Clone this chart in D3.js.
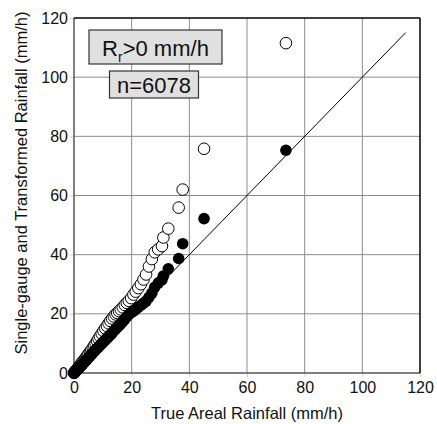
<!DOCTYPE html>
<html>
<head>
<meta charset="utf-8">
<script src="https://cdn.jsdelivr.net/npm/d3@7"></script>
<style>
  body { margin: 0; background: white; }
  text { font-family: "Liberation Sans", Arial, sans-serif; }
</style>
</head>
<body>
<div id="chart"></div>
<script>
  // sorted true areal rainfall quantiles (mm/h), shared by both series
  var trueAreal = [0, 0.1, 0.2, 0.3, 0.5, 0.7, 0.9, 1.1, 1.4, 1.7, 2.0, 2.3, 2.6, 3.0, 3.4, 3.8,
    4.2, 4.6, 5.0, 5.5, 6.0, 6.5, 7.0, 7.5, 8.0, 8.5, 9.0, 9.6, 10.2, 10.8, 11.4, 12.0, 12.6,
    13.2, 13.8, 14.4, 15.0, 15.6, 16.2, 16.9, 17.6, 18.3, 19.0, 19.8, 20.6, 21.4, 22.3, 23.2,
    24.1, 25.0, 26.0, 27.0, 28.0, 29.2, 30.5, 31.0, 32.7, 36.3, 37.7, 45.1, 73.5];
  // single-gauge rainfall (open circles)
  var singleGauge = [0, 0.1, 0.2, 0.35, 0.6, 0.85, 1.1, 1.35, 1.7, 2.1, 2.5, 2.9, 3.3, 3.8, 4.3, 4.8,
    5.3, 5.9, 6.4, 7.1, 7.8, 8.5, 9.3, 10.0, 10.8, 11.6, 12.4, 13.3, 14.2, 15.1, 15.9, 16.8, 17.6,
    18.4, 19.1, 19.8, 20.3, 20.9, 21.5, 22.2, 23.0, 23.7, 24.4, 25.3, 26.5, 27.5, 28.7, 30.0,
    31.6, 33.3, 36.0, 38.5, 40.8, 41.8, 42.9, 45.8, 48.8, 55.9, 62.0, 75.8, 111.5];
  // transformed rainfall (filled circles)
  var transformed = [0, 0.1, 0.2, 0.3, 0.5, 0.7, 0.9, 1.1, 1.4, 1.7, 2.0, 2.3, 2.6, 3.0, 3.4, 3.9,
    4.3, 4.7, 5.2, 5.7, 6.2, 6.8, 7.3, 7.8, 8.3, 8.8, 9.3, 9.9, 10.5, 11.1, 11.7, 12.3, 12.9,
    13.5, 14.2, 14.8, 15.4, 16.0, 16.6, 17.4, 18.2, 19.0, 19.8, 20.4, 20.9, 21.5, 22.3, 22.9,
    23.6, 24.3, 25.6, 27.0, 29.0, 30.4, 31.5, 32.8, 35.2, 38.7, 43.7, 52.2, 75.3];
  var oneToOne = [0, 115];
  var xTicks = [0, 20, 40, 60, 80, 100, 120];
  var yTicks = [0, 20, 40, 60, 80, 100, 120];
  var sampleCount = 6078;

  var width = 437, height = 424;
  var plotLeft = 74, plotRight = 420, plotTop = 18, plotBottom = 373;

  var svg = d3.select("#chart").append("svg")
    .attr("width", width)
    .attr("height", height);

  var xScale = d3.scaleLinear().domain([0, 120]).range([plotLeft, plotRight]);
  var yScale = d3.scaleLinear().domain([0, 120]).range([plotBottom, plotTop]);

  // grid lines
  svg.append("g").selectAll("line").data(xTicks.slice(1, -1)).enter()
    .append("line")
    .attr("x1", d => xScale(d)).attr("x2", d => xScale(d))
    .attr("y1", plotTop).attr("y2", plotBottom)
    .attr("stroke", "#8c8c8c").attr("stroke-width", 1);
  svg.append("g").selectAll("line").data(yTicks.slice(1, -1)).enter()
    .append("line")
    .attr("y1", d => yScale(d)).attr("y2", d => yScale(d))
    .attr("x1", plotLeft).attr("x2", plotRight)
    .attr("stroke", "#8c8c8c").attr("stroke-width", 1);

  // axes (labels only, light ticks)
  var xAxis = svg.append("g")
    .attr("transform", "translate(0," + plotBottom + ")")
    .call(d3.axisBottom(xScale).tickValues(xTicks).tickSize(4).tickPadding(5));
  var yAxis = svg.append("g")
    .attr("transform", "translate(" + plotLeft + ",0)")
    .call(d3.axisLeft(yScale).tickValues(yTicks).tickSize(4).tickPadding(2));
  [xAxis, yAxis].forEach(function(a) {
    a.select(".domain").remove();
    a.selectAll("line").attr("stroke", "#d0d0d0");
    a.selectAll("text")
      .attr("font-size", "16px")
      .attr("fill", "#111")
      .style("font-family", "'Liberation Sans', Arial, sans-serif");
  });

  // frame: left/bottom gray, top/right black
  svg.append("line").attr("x1", plotLeft).attr("x2", plotLeft).attr("y1", plotTop).attr("y2", plotBottom)
    .attr("stroke", "#555").attr("stroke-width", 1.5);
  svg.append("line").attr("x1", plotLeft).attr("x2", plotRight).attr("y1", plotBottom).attr("y2", plotBottom)
    .attr("stroke", "#555").attr("stroke-width", 1.5);
  svg.append("line").attr("x1", plotLeft).attr("x2", plotRight).attr("y1", plotTop).attr("y2", plotTop)
    .attr("stroke", "#000").attr("stroke-width", 1.5);
  svg.append("line").attr("x1", plotRight).attr("x2", plotRight).attr("y1", plotTop).attr("y2", plotBottom)
    .attr("stroke", "#000").attr("stroke-width", 1.5);

  // 1:1 line
  svg.append("line")
    .attr("x1", xScale(oneToOne[0])).attr("y1", yScale(oneToOne[0]))
    .attr("x2", xScale(oneToOne[1])).attr("y2", yScale(oneToOne[1]))
    .attr("stroke", "#000").attr("stroke-width", 1);

  // open circles first, filled on top
  svg.append("g").selectAll("circle").data(trueAreal).enter()
    .append("circle")
    .attr("cx", d => xScale(d))
    .attr("cy", (d, i) => yScale(singleGauge[i]))
    .attr("r", 5.8)
    .attr("fill", "white")
    .attr("stroke", "#000")
    .attr("stroke-width", 1);
  svg.append("g").selectAll("circle").data(trueAreal).enter()
    .append("circle")
    .attr("cx", d => xScale(d))
    .attr("cy", (d, i) => yScale(transformed[i]))
    .attr("r", 5.8)
    .attr("fill", "#000");

  // legend boxes
  svg.append("rect").attr("x", 89).attr("y", 30).attr("width", 133).attr("height", 34)
    .attr("fill", "#e0e0e0").attr("stroke", "#333").attr("stroke-width", 1.2);
  var t1 = svg.append("text").attr("x", 155.5).attr("y", 56).attr("text-anchor", "middle")
    .attr("font-size", "22px").attr("fill", "#111");
  t1.append("tspan").text("R");
  t1.append("tspan").attr("font-size", "14px").attr("dy", 6).text("r");
  t1.append("tspan").attr("dy", -6).text(">0 mm/h");

  svg.append("rect").attr("x", 109.5).attr("y", 71).attr("width", 89).attr("height", 27)
    .attr("fill", "#e0e0e0").attr("stroke", "#333").attr("stroke-width", 1.2);
  svg.append("text").attr("x", 154).attr("y", 93).attr("text-anchor", "middle")
    .attr("font-size", "22px").attr("fill", "#111")
    .text("n=" + sampleCount);

  // axis titles
  svg.append("text")
    .attr("x", (plotLeft + plotRight) / 2).attr("y", 419)
    .attr("text-anchor", "middle").attr("font-size", "16.5px").attr("fill", "#111")
    .text("True Areal Rainfall (mm/h)");
  svg.append("text")
    .attr("transform", "translate(27,183) rotate(-90)")
    .attr("text-anchor", "middle").attr("font-size", "16.5px").attr("fill", "#111")
    .text("Single-gauge and Transformed Rainfall (mm/h)");
</script>
</body>
</html>
